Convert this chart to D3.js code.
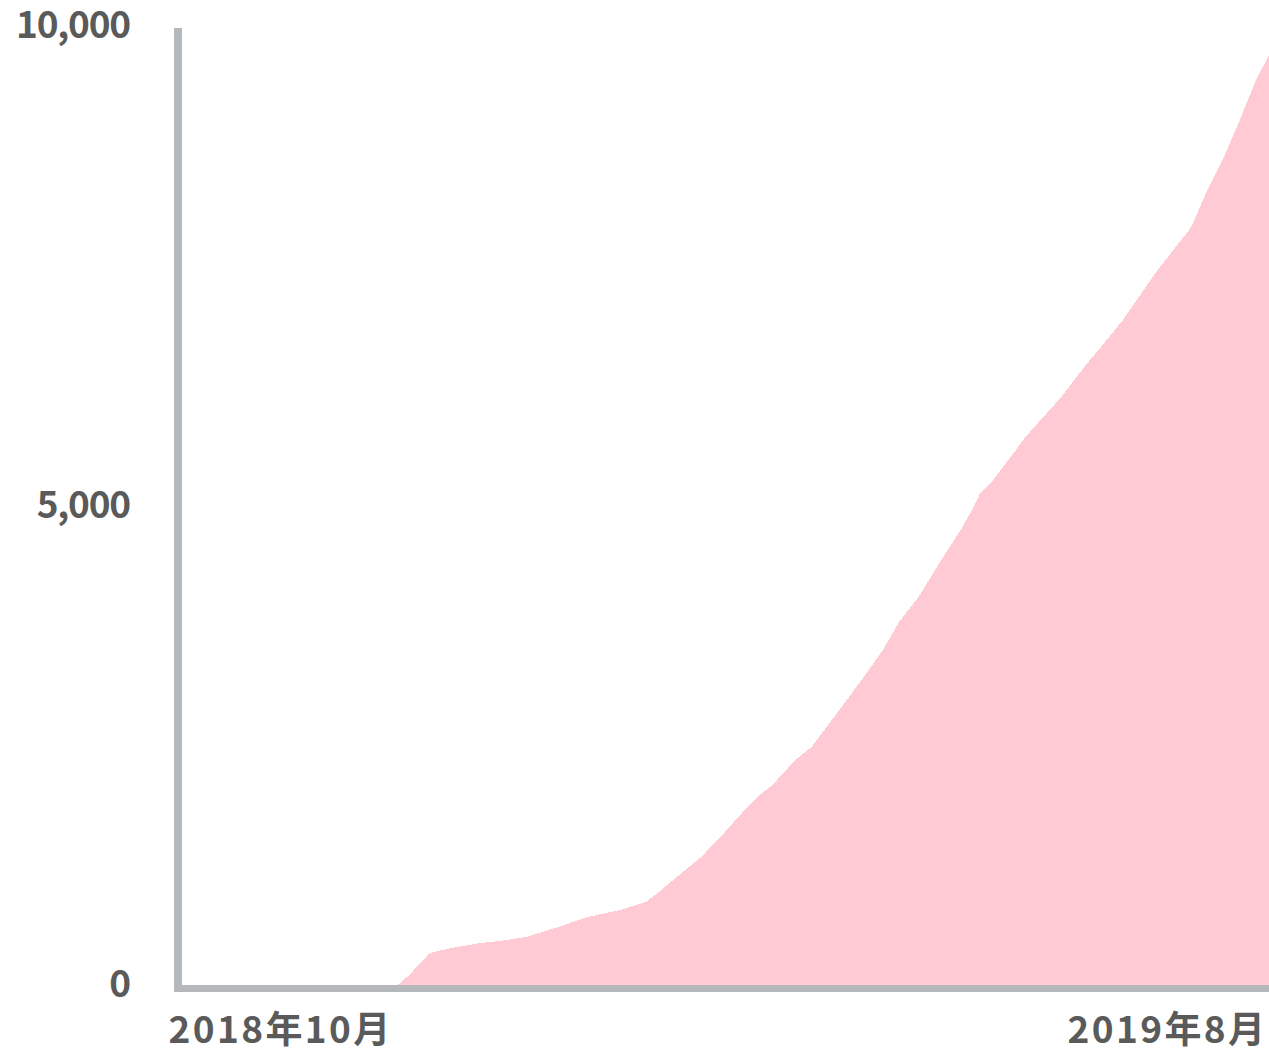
<!DOCTYPE html>
<html>
<head>
<meta charset="utf-8">
<script src="https://cdn.jsdelivr.net/npm/d3@7"></script>
<style>
  body { margin: 0; background: #fff; }
  svg text { font-family: "Noto Sans CJK JP", "Noto Sans", sans-serif; font-weight: 700; }
</style>
</head>
<body>
<div id="chart"></div>
<script>
// cumulative total at the points where the slope changes
const dates = [
  "2018-10-01", "2018-12-06", "2018-12-07", "2018-12-10", "2018-12-13", "2018-12-16",
  "2018-12-17", "2018-12-23", "2019-01-01", "2019-01-07", "2019-01-15", "2019-01-25",
  "2019-02-03", "2019-02-13", "2019-02-21", "2019-02-25", "2019-03-03", "2019-03-10",
  "2019-03-16", "2019-03-22", "2019-03-28", "2019-04-01", "2019-04-08", "2019-04-13",
  "2019-04-20", "2019-04-25", "2019-04-30", "2019-05-05", "2019-05-10", "2019-05-16",
  "2019-05-23", "2019-05-29", "2019-06-02", "2019-06-04", "2019-06-08", "2019-06-15",
  "2019-06-18", "2019-06-29", "2019-07-07", "2019-07-11", "2019-07-18", "2019-07-28",
  "2019-08-08", "2019-08-13", "2019-08-18", "2019-08-23", "2019-08-28", "2019-09-01"
];
const totals = [
  0, 0, 10, 104, 209, 320,
  340, 386, 438, 459, 500, 605,
  709, 782, 866, 970, 1140, 1335,
  1543, 1773, 1981, 2086, 2346, 2482,
  2795, 3024, 3254, 3493, 3785, 4046,
  4432, 4745, 4985, 5131, 5266, 5579,
  5715, 6132, 6486, 6643, 6935, 7425,
  7900, 8290, 8624, 9020, 9437, 9698
];
const yTicks = [0, 5000, 10000];
const xTickDates = ["2018-10-01", "2019-09-01"];
const xTickLabels = ["2018年10月", "2019年8月"];

const parse = d3.timeParse("%Y-%m-%d");
const data = dates.map(function(d, i) { return { date: parse(d), value: totals[i] }; });

const width = 1269;
const height = 1056;

const x = d3.scaleTime()
  .domain([parse(xTickDates[0]), parse(xTickDates[1])])
  .range([182, 1269]);

const y = d3.scaleLinear()
  .domain([0, 10000])
  .range([985, 26]);

const svg = d3.select("#chart")
  .append("svg")
  .attr("width", width)
  .attr("height", height);

const area = d3.area()
  .x(function(d) { return x(d.date); })
  .y0(y(0))
  .y1(function(d) { return y(d.value); })
  .curve(d3.curveLinear);

svg.append("path")
  .datum(data)
  .attr("fill", "#ffcad4")
  .attr("shape-rendering", "crispEdges")
  .attr("d", area);

// axis lines
const axisX = x.range()[0] - 4;
svg.append("line")
  .attr("x1", axisX).attr("x2", axisX)
  .attr("y1", y(10000) + 2).attr("y2", y(0) + 7)
  .attr("stroke", "#b5b8bb")
  .attr("stroke-width", 8);

svg.append("line")
  .attr("x1", axisX - 4).attr("x2", x.range()[1])
  .attr("y1", y(0) + 3.5).attr("y2", y(0) + 3.5)
  .attr("stroke", "#b5b8bb")
  .attr("stroke-width", 7);

const yAxis = svg.append("g")
  .attr("transform", "translate(" + axisX + ",0)")
  .call(d3.axisLeft(y).tickValues(yTicks).tickFormat(d3.format(",")).tickSize(0).tickPadding(48));
yAxis.select(".domain").remove();
yAxis.attr("font-family", null).attr("font-size", null);
yAxis.selectAll("text")
  .attr("font-size", 37)
  .attr("fill", "#5a5a5a")
  .attr("letter-spacing", -1.2);

const xAxis = svg.append("g")
  .attr("transform", "translate(0," + (y(0) + 3.5) + ")")
  .call(d3.axisBottom(x)
    .tickValues(xTickDates.map(parse))
    .tickFormat(function(d, i) { return xTickLabels[i]; })
    .tickSize(0)
    .tickPadding(28));
xAxis.select(".domain").remove();
xAxis.attr("font-family", null).attr("font-size", null);
xAxis.selectAll("text")
  .attr("font-size", 37)
  .attr("fill", "#5a5a5a")
  .attr("letter-spacing", 2.4)
  .attr("text-anchor", function(d, i) { return i === 0 ? "start" : "end"; })
  .attr("dx", function(d, i) { return i === 0 ? -14 : -2; });
</script>
</body>
</html>
